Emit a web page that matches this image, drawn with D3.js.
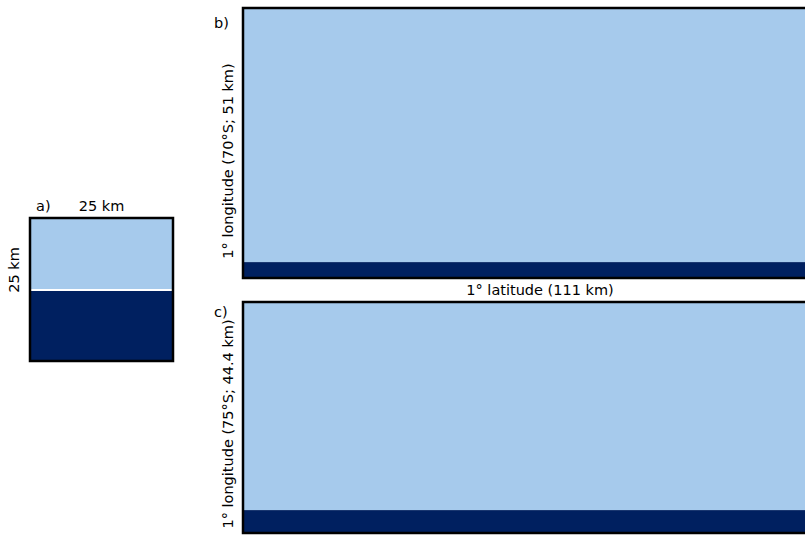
<!DOCTYPE html>
<html>
<head>
<meta charset="utf-8">
<script src="https://cdn.jsdelivr.net/npm/d3@7"></script>
<style>
  html, body { margin: 0; padding: 0; background: #fff; }
  svg { display: block; font-family: "DejaVu Sans", "Liberation Sans", Arial, sans-serif; }
</style>
</head>
<body>
<svg id="chart" width="805" height="537"></svg>
<script>
// Grid-cell comparison: a 25 km cell vs. a 1° x 1° cell at 70°S and 75°S
const panelIds    = ["a", "b", "c"];
const widthsKm    = [25, 111, 111];        // east–west extent of each cell
const heightsKm   = [25, 51, 44.4];        // north–south extent of each cell
const deepKm      = [12.4, 3.0, 4.4];      // thickness of the dark lower band
const topLabels   = ["25 km", null, null];
const sideLabels  = ["25 km", "1° longitude (70°S; 51 km)", "1° longitude (75°S; 44.4 km)"];
const bottomLabel = "1° latitude (111 km)";

const light = "#A6CAEC";
const dark  = "#002060";
const fontSize = 14.5;

// Pixel frame of each panel
const frames = [
  { x: 30,  y: 218, w: 143, h: 143, sideX: 19,  sideY: 270, tagX: 36,  tagY: 211, whiteGap: true },
  { x: 243, y: 8,   w: 587, h: 270, sideX: 233, sideY: 161, tagX: 214, tagY: 28,  whiteGap: false },
  { x: 243, y: 302, w: 587, h: 231, sideX: 233, sideY: 424, tagX: 214, tagY: 317, whiteGap: false }
];

const svg = d3.select("#chart");

panelIds.forEach((id, i) => {
  const f = frames[i];
  const x = d3.scaleLinear().domain([0, widthsKm[i]]).range([f.x, f.x + f.w]);
  const y = d3.scaleLinear().domain([0, heightsKm[i]]).range([f.y + f.h, f.y]);
  const g = svg.append("g").attr("class", "panel-" + id);

  // upper (light) layer
  g.append("rect")
    .attr("x", x(0)).attr("y", y(heightsKm[i]))
    .attr("width", x(widthsKm[i]) - x(0))
    .attr("height", y(deepKm[i]) - y(heightsKm[i]))
    .attr("fill", light);

  // lower (dark) layer
  g.append("rect")
    .attr("x", x(0)).attr("y", y(deepKm[i]))
    .attr("width", x(widthsKm[i]) - x(0))
    .attr("height", y(0) - y(deepKm[i]))
    .attr("fill", dark);

  if (f.whiteGap) {
    g.append("line")
      .attr("x1", x(0)).attr("x2", x(widthsKm[i]))
      .attr("y1", y(deepKm[i])).attr("y2", y(deepKm[i]))
      .attr("stroke", "#fff").attr("stroke-width", 2);
  }

  // outline
  g.append("rect")
    .attr("x", x(0)).attr("y", y(heightsKm[i]))
    .attr("width", x(widthsKm[i]) - x(0))
    .attr("height", y(0) - y(heightsKm[i]))
    .attr("fill", "none")
    .attr("stroke", "#000").attr("stroke-width", 2.5);

  // panel tag
  g.append("text")
    .attr("x", f.tagX).attr("y", f.tagY)
    .attr("font-size", fontSize).attr("fill", "#000")
    .text(id + ")");

  // top label
  if (topLabels[i]) {
    g.append("text")
      .attr("x", (x(0) + x(widthsKm[i])) / 2).attr("y", f.tagY)
      .attr("text-anchor", "middle")
      .attr("font-size", fontSize).attr("fill", "#000")
      .text(topLabels[i]);
  }

  // rotated side label
  g.append("text")
    .attr("transform", `translate(${f.sideX},${f.sideY}) rotate(-90)`)
    .attr("text-anchor", "middle")
    .attr("font-size", fontSize).attr("fill", "#000")
    .text(sideLabels[i]);
});

// shared latitude label between panels b and c
svg.append("text")
  .attr("x", 540).attr("y", 295)
  .attr("text-anchor", "middle")
  .attr("font-size", fontSize).attr("fill", "#000")
  .text(bottomLabel);
</script>
</body>
</html>
